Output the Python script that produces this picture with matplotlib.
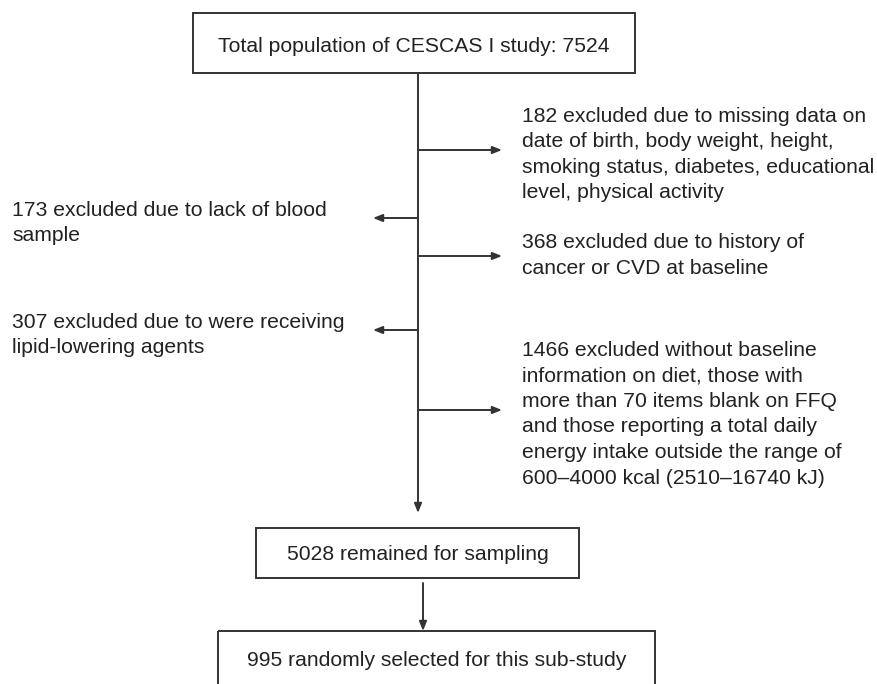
import matplotlib.pyplot as plt
from matplotlib.patches import Rectangle

plt.rcParams['font.family'] = ['Liberation Sans', 'DejaVu Sans']

total = 7524
remained = 5028
selected = 995

top_label = f'Total population of CESCAS I study: {total}'
mid_label = f'{remained} remained for sampling'
bottom_label = f'{selected} randomly selected for this sub-study'

# exclusions, in order down the main line
excl_counts = [182, 173, 368, 307, 1466]
excl_sides = ['right', 'left', 'right', 'left', 'right']
excl_texts = [
    ['182 excluded due to missing data on', 'date of birth, body weight, height,',
     'smoking status, diabetes, educational', 'level, physical activity'],
    ['173 excluded due to lack of blood', 'sample'],
    ['368 excluded due to history of', 'cancer or CVD at baseline'],
    ['307 excluded due to were receiving', 'lipid-lowering agents'],
    ['1466 excluded without baseline', 'information on diet, those with',
     'more than 70 items blank on FFQ', 'and those reporting a total daily',
     'energy intake outside the range of', '600\u20134000 kcal (2510\u201316740 kJ)'],
]

fig = plt.figure(figsize=(8.78, 6.84), dpi=100)
ax = fig.add_axes([0, 0, 1, 1])
ax.set_xlim(0, 878)
ax.set_ylim(684, 0)
ax.axis('off')

lc = '#333333'
lw = 1.4
fs = 15.2
tc = '#222222'
half_cap = 7.5  # px, puts the middle of the capitals on the given y

def label(x, y, s, ha='left'):
    ax.text(x, y + half_cap, s, ha=ha, va='baseline', fontsize=fs, color=tc)

def box(x0, y0, x1, y1, s, ty=None):
    ax.add_patch(Rectangle((x0, y0), x1 - x0, y1 - y0, fill=False, ec=lc, lw=lw))
    label((x0 + x1) / 2, (y0 + y1) / 2 if ty is None else ty, s, ha='center')

def arrow(x0, y0, x1, y1):
    ax.annotate('', xy=(x1, y1), xytext=(x0, y0),
                arrowprops=dict(arrowstyle='-|>,head_length=0.55,head_width=0.22',
                                color=lc, lw=lw, shrinkA=0, shrinkB=0))

box(193, 13, 635, 73, top_label, ty=45)
box(256, 528, 579, 578, mid_label, ty=553)
box(218, 631, 655, 720, bottom_label, ty=658)

main_x = 418
arrow(main_x, 73, main_x, 513)
arrow(423, 583, 423, 631)

arrow_y = [150, 218, 256, 330, 410]
text_top = [114, 208, 241, 320, 348]
line_h = 25.6
for side, lines, ay, ty in zip(excl_sides, excl_texts, arrow_y, text_top):
    if side == 'right':
        arrow(main_x, ay, 502, ay)
        tx = 522
    else:
        arrow(main_x, ay, 373, ay)
        tx = 12
    for i, ln in enumerate(lines):
        label(tx, ty + i * line_h, ln)

fig.savefig('out.png', dpi=100)
